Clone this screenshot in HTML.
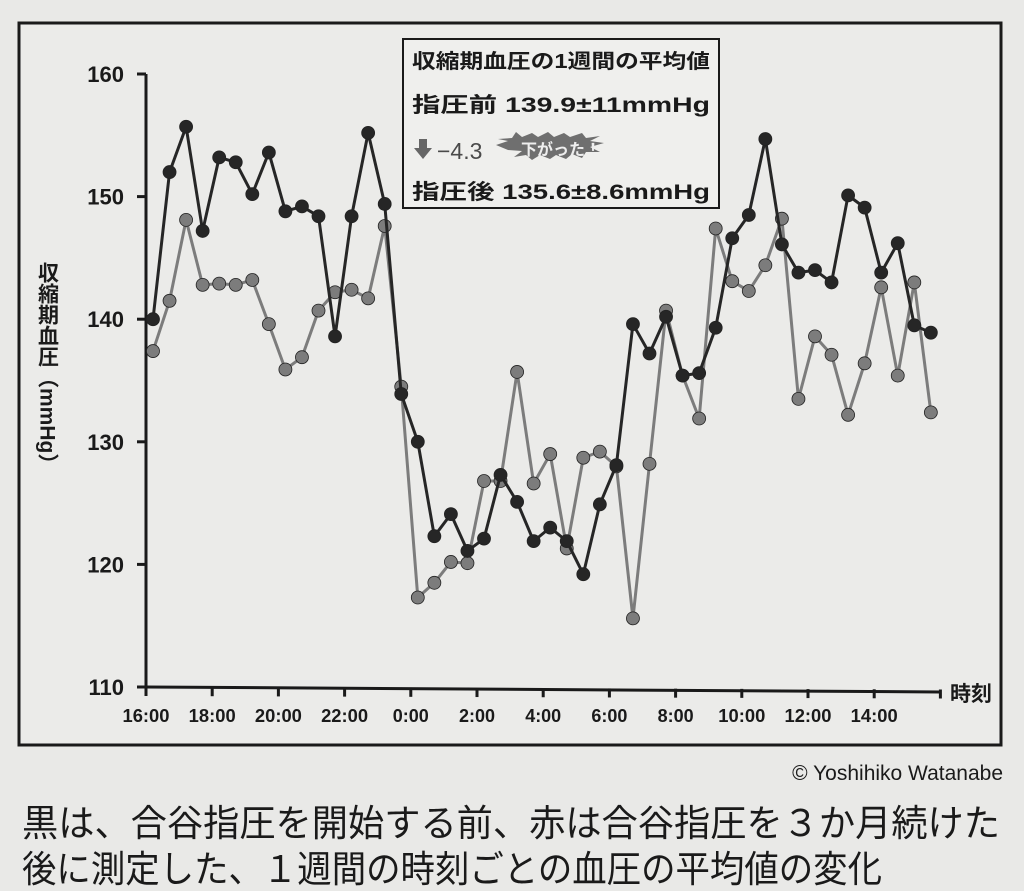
<!DOCTYPE html>
<html><head><meta charset="utf-8">
<style>
html,body{margin:0;padding:0;background:#e9e9e7;}
svg{display:block;}
text{font-family:"Liberation Sans","Noto Sans CJK JP",sans-serif;fill:#1a1a1a;}
.jp{font-family:"Liberation Sans","Noto Sans CJK JP",sans-serif;}
</style></head>
<body>
<svg id="chart" width="1024" height="891" viewBox="0 0 1024 891" xmlns="http://www.w3.org/2000/svg">
<rect x="0" y="0" width="1024" height="891" fill="#e9e9e7"/>
<rect x="19" y="23" width="982" height="722" fill="#ebebe9" stroke="#1a1a1a" stroke-width="3"/>
<g id="axes"></g>
<g id="series"></g>
<g>
<rect x="403" y="39" width="316" height="169" fill="#efefed" stroke="#1a1a1a" stroke-width="2"/>
<text x="412" y="68" font-size="20" font-weight="bold" class="jp" textLength="298" lengthAdjust="spacingAndGlyphs">収縮期血圧の1週間の平均値</text>
<text x="412" y="112" font-size="21" font-weight="bold" class="jp" textLength="298" lengthAdjust="spacingAndGlyphs">指圧前 139.9±11mmHg</text>
<path d="M419,139 h8 v9 h5 l-9,11 l-9,-11 h5z" fill="#666"/>
<text x="437" y="159" font-size="23" style="fill:#4a4a4a">−4.3</text>
<path d="M496,145 l12,-4 l-10,-2 l14,-1 l4,-6 l6,5 l10,-4 l6,4 l10,-5 l6,5 l10,-4 l6,4 l12,-4 l4,5 l14,-2 l-10,5 l14,2 l-14,4 l10,5 l-14,0 l-4,6 l-10,-4 l-6,5 l-10,-4 l-6,4 l-10,-4 l-8,5 l-6,-5 l-12,2 l8,-6 l-14,-1z" fill="#6f6f6f"/>
<text x="521" y="155" font-size="16" font-weight="bold" class="jp" style="fill:#eee">下がった！</text>
<text x="412" y="199" font-size="21" font-weight="bold" class="jp" textLength="298" lengthAdjust="spacingAndGlyphs">指圧後 135.6±8.6mmHg</text>
</g>
<text x="1003" y="780" font-size="21" text-anchor="end">© Yoshihiko Watanabe</text>
<text x="22" y="836" font-size="37" class="jp" textLength="978" lengthAdjust="spacingAndGlyphs">黒は、合谷指圧を開始する前、赤は合谷指圧を３か月続けた</text>
<text x="22" y="882" font-size="37" class="jp" textLength="860" lengthAdjust="spacingAndGlyphs">後に測定した、１週間の時刻ごとの血圧の平均値の変化</text>
</svg>
<script>
const yTicks = [110, 120, 130, 140, 150, 160];
const xTickLabels = ["16:00","18:00","20:00","22:00","0:00","2:00","4:00","6:00","8:00","10:00","12:00","14:00"];
const beforeValues = [140.0,152.0,155.7,147.2,153.2,152.8,150.2,153.6,148.8,149.2,148.4,138.6,148.4,155.2,149.4,133.9,130.0,122.3,124.1,121.1,122.1,127.3,125.1,121.9,123.0,121.9,119.2,124.9,128.1,139.6,137.2,140.2,135.4,135.6,139.3,146.6,148.5,154.7,146.1,143.8,144.0,143.0,150.1,149.1,143.8,146.2,139.5,138.9];
const afterValues = [137.4,141.5,148.1,142.8,142.9,142.8,143.2,139.6,135.9,136.9,140.7,142.2,142.4,141.7,147.6,134.5,117.3,118.5,120.2,120.1,126.8,126.8,135.7,126.6,129.0,121.3,128.7,129.2,128.0,115.6,128.2,140.7,135.4,131.9,147.4,143.1,142.3,144.4,148.2,133.5,138.6,137.1,132.2,136.4,142.6,135.4,143.0,132.4];

const NS = "http://www.w3.org/2000/svg";
const X0 = 146, HOUR = 33.1, Y0 = 687, YTOP = 74;
const yScale = v => Y0 - (v - 110) / 50 * (Y0 - YTOP);
const xIndex = i => 153 + i * HOUR / 2;
function mk(tag, attrs, parent){const e=document.createElementNS(NS,tag);for(const k in attrs)e.setAttribute(k,attrs[k]);parent.appendChild(e);return e;}
const axes = document.getElementById("axes");
const series = document.getElementById("series");

let yl = mk("line",{x1:X0,y1:YTOP,x2:X0,y2:Y0,stroke:"#1a1a1a","stroke-width":3},axes);


let xl = mk("line",{x1:X0,y1:Y0,x2:940,y2:Y0+5,stroke:"#1a1a1a","stroke-width":3},axes);



yTicks.forEach(v=>{
  const y=yScale(v);
  const t=mk("line",{x1:X0-9,y1:y,x2:X0,y2:y,stroke:"#1a1a1a","stroke-width":3},axes);
  
  
  const l=mk("text",{x:X0-22,y:y+8,"font-size":22,"font-weight":"bold","text-anchor":"end"},axes);
  l.textContent=v;
  
  
});
for(let i=0;i<=12;i++){
  const x=X0+i*HOUR*2, y=Y0+5*i/24;
  const t=mk("line",{x1:x,y1:y,x2:x,y2:y+9,stroke:"#1a1a1a","stroke-width":3},axes);
  
  
  if(i<xTickLabels.length){
    const l=mk("text",{x:x,y:Y0+35,"font-size":18,"font-weight":"bold","text-anchor":"middle",textLength:xTickLabels[i].length>4?47:36,lengthAdjust:"spacingAndGlyphs"},axes);
    l.textContent=xTickLabels[i];
    
    
  }
}
const xt=mk("text",{x:950,y:Y0+14,"font-size":21,"font-weight":"bold",class:"jp"},axes);
xt.textContent="時刻";


const yt=mk("text",{x:47,y:262,"font-size":21,"font-weight":"bold",class:"jp",style:"writing-mode:vertical-rl"},axes);
yt.textContent="収縮期血圧（mmHg）";



function drawSeries(vals, color, name){
  const pts=vals.map((v,i)=>xIndex(i)+","+yScale(v)).join(" ");
  const pl=mk("polyline",{points:pts,fill:"none",stroke:color,"stroke-width":3,"stroke-linejoin":"round"},series);
  
  
  vals.forEach((v,i)=>{
    const c=mk("circle",{cx:xIndex(i),cy:yScale(v),r:6.5,fill:color,stroke:"#222","stroke-width":0.8},series);
    
    
  });
}
drawSeries(afterValues,"#7c7c7c","after-shiatsu");
drawSeries(beforeValues,"#262626","before-shiatsu");
</script>
</body></html>
